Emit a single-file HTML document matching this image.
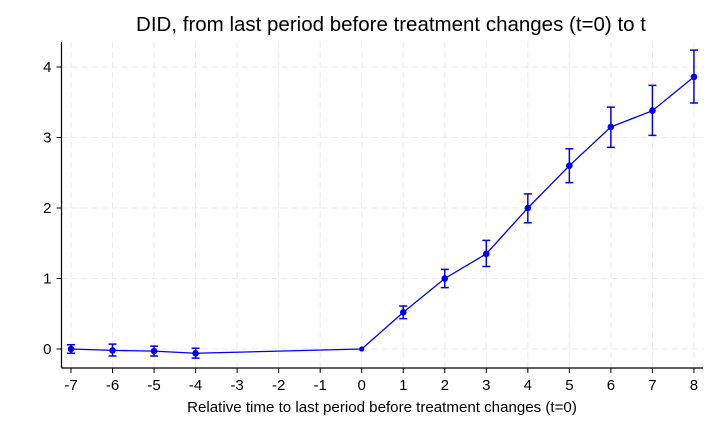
<!DOCTYPE html>
<html><head><meta charset="utf-8"><style>
html,body{margin:0;padding:0;background:#fff;}
svg{display:block;font-family:"Liberation Sans",Arial,sans-serif;}
</style></head><body>
<svg id="chart" width="720" height="432">
<text x="391" y="31" font-size="20.5" text-anchor="middle" fill="#000">DID, from last period before treatment changes (t=0) to t</text>
<g id="grid"></g>
<g id="axes"></g>
<g id="series"></g>
<text x="382" y="412" font-size="15.1" text-anchor="middle" fill="#000">Relative time to last period before treatment changes (t=0)</text>
</svg>
<script>
const periods=[-7,-6,-5,-4,0,1,2,3,4,5,6,7,8];
const estimates=[0.0,-0.02,-0.03,-0.06,0.0,0.52,1.0,1.35,2.0,2.6,3.15,3.38,3.86];
const ciLow=[-0.06,-0.10,-0.10,-0.13,0.0,0.43,0.87,1.17,1.79,2.36,2.86,3.03,3.49];
const ciHigh=[0.06,0.07,0.04,0.01,0.0,0.61,1.13,1.54,2.20,2.84,3.43,3.74,4.24];
const xTicks=[-7,-6,-5,-4,-3,-2,-1,0,1,2,3,4,5,6,7,8];
const yTicks=[0,1,2,3,4];
const NS="http://www.w3.org/2000/svg";
const X=v=>71+(v+7)*41.53;
const Y=v=>349-v*70.5;
function mk(tag,attrs,parent){const e=document.createElementNS(NS,tag);for(const k in attrs)e.setAttribute(k,attrs[k]);document.getElementById(parent).appendChild(e);return e;}
const L=61.5,B=368,T=42,R=703;
xTicks.forEach(t=>{
 const g=mk('line',{x1:X(t),x2:X(t),y1:T,y2:B,stroke:'#ebebeb','stroke-dasharray':'6,4','stroke-width':1},'grid');
 
 
 const tk=mk('line',{x1:X(t),x2:X(t),y1:B,y2:B+5,stroke:'#000'},'axes');
 
 
 const lb=mk('text',{x:X(t),y:B+22,'font-size':15,'text-anchor':'middle',fill:'#000'},'axes');
 lb.textContent=t;
 
 
});
yTicks.forEach(t=>{
 const g=mk('line',{x1:L,x2:R,y1:Y(t),y2:Y(t),stroke:'#ebebeb','stroke-dasharray':'6,4','stroke-width':1},'grid');
 
 
 const tk=mk('line',{x1:L-5,x2:L,y1:Y(t),y2:Y(t),stroke:'#000'},'axes');
 
 
 const lb=mk('text',{x:L-10,y:Y(t)+5,'font-size':15,'text-anchor':'end',fill:'#000'},'axes');
 lb.textContent=t;
 
 
});
const ya=mk('line',{x1:L,x2:L,y1:T,y2:B,stroke:'#000','stroke-width':1.2},'axes');


const xa=mk('line',{x1:L,x2:R,y1:B,y2:B,stroke:'#000','stroke-width':1.2},'axes');


const pl=mk('polyline',{points:periods.map((p,i)=>X(p)+','+Y(estimates[i])).join(' '),fill:'none',stroke:'#0000ee','stroke-width':1.3},'series');


periods.forEach((p,i)=>{
 const x=X(p);
 if(ciHigh[i]!==ciLow[i]){
  const e=mk('path',{d:`M${x},${Y(ciLow[i])}V${Y(ciHigh[i])}M${x-4},${Y(ciLow[i])}H${x+4}M${x-4},${Y(ciHigh[i])}H${x+4}`,stroke:'#0000ee','stroke-width':1.5,fill:'none'},'series');
  
  
 }
 const c=mk('circle',{cx:x,cy:Y(estimates[i]),r:p===0?2.6:3.3,fill:'#0000ee'},'series');
 
 
});
</script>
</body></html>
